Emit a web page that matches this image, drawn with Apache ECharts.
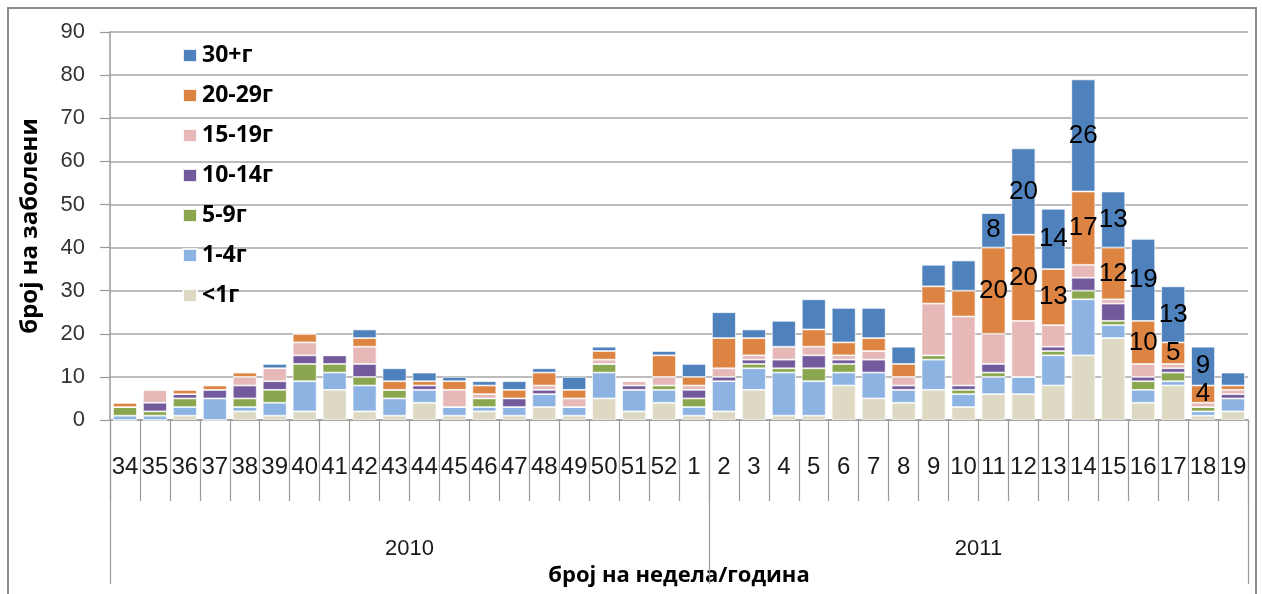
<!DOCTYPE html>
<html>
<head>
<meta charset="utf-8">
<script src="https://cdn.jsdelivr.net/npm/echarts@6/dist/echarts.min.js"></script>
<style>
html,body{margin:0;padding:0;background:#fff;}
#chart{width:1262px;height:594px;}
</style>
</head>
<body>
<div id="chart"></div>
<script>
// ---- data ----
const weeks = ['34','35','36','37','38','39','40','41','42','43','44','45','46','47','48','49','50','51','52',
               '1','2','3','4','5','6','7','8','9','10','11','12','13','14','15','16','17','18','19'];
const years = ['2010', '2011'];
const yearSpans = [20, 18]; // number of week categories grouped under each year label
const seriesNames = ['<1г', '1-4г', '5-9г', '10-14г', '15-19г', '20-29г', '30+г'];
const lt1     = [0,0,1,0,2,1,2,7,2,1,4,1,2,1,3,1,5,2,4, 1,2,7,1,1,8,5,4,7,3,6,6,8,15,19,4,8,1,2];
const age1_4  = [1,1,2,5,1,3,7,4,6,4,3,2,1,2,3,2,6,5,3, 2,7,5,10,8,3,6,3,7,3,4,4,7,13,3,3,1,1,3];
const age5_9  = [2,1,2,0,2,3,4,2,2,2,0,0,2,0,0,0,2,0,1, 2,0,1,1,3,2,0,0,1,1,1,0,1,2,1,2,2,1,0];
const age10_14= [0,2,1,2,3,2,2,2,3,0,1,0,0,2,1,0,0,1,0, 2,1,1,2,3,1,3,1,0,1,2,0,1,3,4,1,1,0,1];
const age15_19= [0,3,0,0,2,3,3,0,4,0,0,4,1,0,1,2,1,1,2, 1,2,1,3,2,1,2,2,12,16,7,13,5,3,1,3,1,1,1];
const age20_29= [1,0,1,1,1,0,2,0,2,2,1,2,2,2,3,2,2,0,5, 2,7,4,0,4,3,3,3,4,6,20,20,13,17,12,10,5,4,1];
const age30   = [0,0,0,0,0,1,0,0,2,3,2,1,1,2,1,3,1,0,1, 3,6,2,6,7,8,7,4,5,7,8,20,14,26,13,19,13,9,3];
const labelledWeeks = ['11','12','13','14','15','16','17','18'];
const labelledSeries = ['20-29г', '30+г'];
const colors = ['#DDD9C3', '#8DB3E2', '#8AA64E', '#735A9C', '#E6B8B7', '#DD8443', '#4F81BD'];

// ---- derived ----
const allData = [lt1, age1_4, age5_9, age10_14, age15_19, age20_29, age30];
const yearBounds = [0];
yearSpans.forEach((s, i) => yearBounds.push(yearBounds[i] + s));
const yearCenters = yearSpans.map((s, i) => yearBounds[i] + s / 2);

const numFont = '"Liberation Sans Narrow", "Liberation Sans", Arial, sans-serif';
const titleFont = '"Open Sans", "Liberation Sans", sans-serif';

const chart = echarts.init(document.getElementById('chart'), null, {renderer: 'canvas'});

const series = seriesNames.map((name, i) => ({
  name: name,
  type: 'bar',
  stack: 'total',
  xAxisIndex: 0,
  yAxisIndex: 0,
  barWidth: '80%',
  data: allData[i],
  itemStyle: {color: colors[i], borderColor: 'rgba(255,255,255,0.85)', borderWidth: 0.8},
  label: {
    show: labelledSeries.includes(name),
    position: 'inside',
    color: '#000',
    fontSize: 26,
    fontFamily: numFont,
    formatter: p => labelledWeeks.includes(p.name) ? String(p.value) : ''
  },
  emphasis: {disabled: true}
}));

const option = {
  animation: false,
  color: colors,
  graphic: [{
    type: 'rect',
    shape: {x: 8, y: 8, width: 1248, height: 600},
    style: {fill: 'none', stroke: '#8c8c8c', lineWidth: 2},
    z: -1
  }],
  legend: {
    orient: 'vertical',
    left: 182,
    top: 44,
    padding: 0,
    itemWidth: 14,
    itemHeight: 13,
    itemGap: 17,
    icon: 'rect',
    data: seriesNames.slice().reverse(),
    textStyle: {fontSize: 23, lineHeight: 22, fontWeight: 'bold', color: '#000', fontFamily: titleFont}
  },
  grid: {left: 110, right: 14, top: 32, bottom: 174, containLabel: false},
  xAxis: [{
    type: 'category',
    data: weeks,
    position: 'bottom',
    name: 'број на недела/година',
    nameLocation: 'middle',
    nameGap: 145,
    nameTextStyle: {fontSize: 22, fontWeight: 'bold', color: '#000', fontFamily: titleFont},
    axisLine: {show: true, lineStyle: {color: '#9a9a9a', width: 1.5}},
    axisTick: {show: true, interval: 0, length: 81, lineStyle: {color: '#9a9a9a', width: 1.2}},
    axisLabel: {interval: 0, margin: 35, fontSize: 24, color: '#1a1a1a', fontFamily: numFont},
    splitLine: {show: false}
  }, {
    type: 'value',
    min: 0,
    max: weeks.length,
    position: 'bottom',
    axisLine: {show: false},
    splitLine: {show: false},
    axisTick: {show: true, customValues: yearBounds, length: 164, lineStyle: {color: '#9a9a9a', width: 1.2}},
    axisLabel: {
      show: true,
      customValues: yearCenters,
      margin: 118,
      fontSize: 22,
      color: '#1a1a1a',
      fontFamily: numFont,
      formatter: v => {
        const idx = yearCenters.findIndex(c => Math.abs(c - v) < 1e-6);
        return idx >= 0 ? years[idx] : '';
      }
    }
  }],
  yAxis: {
    type: 'value',
    min: 0,
    max: 90,
    interval: 10,
    name: 'број на заболени',
    nameLocation: 'middle',
    nameGap: 68,
    nameRotate: 90,
    nameTextStyle: {fontSize: 24, fontWeight: 'bold', color: '#000', fontFamily: titleFont},
    axisLine: {show: true, lineStyle: {color: '#9a9a9a', width: 1.5}},
    axisTick: {show: true, length: 10, lineStyle: {color: '#9a9a9a', width: 1.2}},
    axisLabel: {margin: 25, fontSize: 22, color: '#333', fontFamily: numFont},
    splitLine: {show: true, lineStyle: {color: '#a6a6a6', width: 1.5}}
  },
  series: series
};

chart.setOption(option);
</script>
</body>
</html>
